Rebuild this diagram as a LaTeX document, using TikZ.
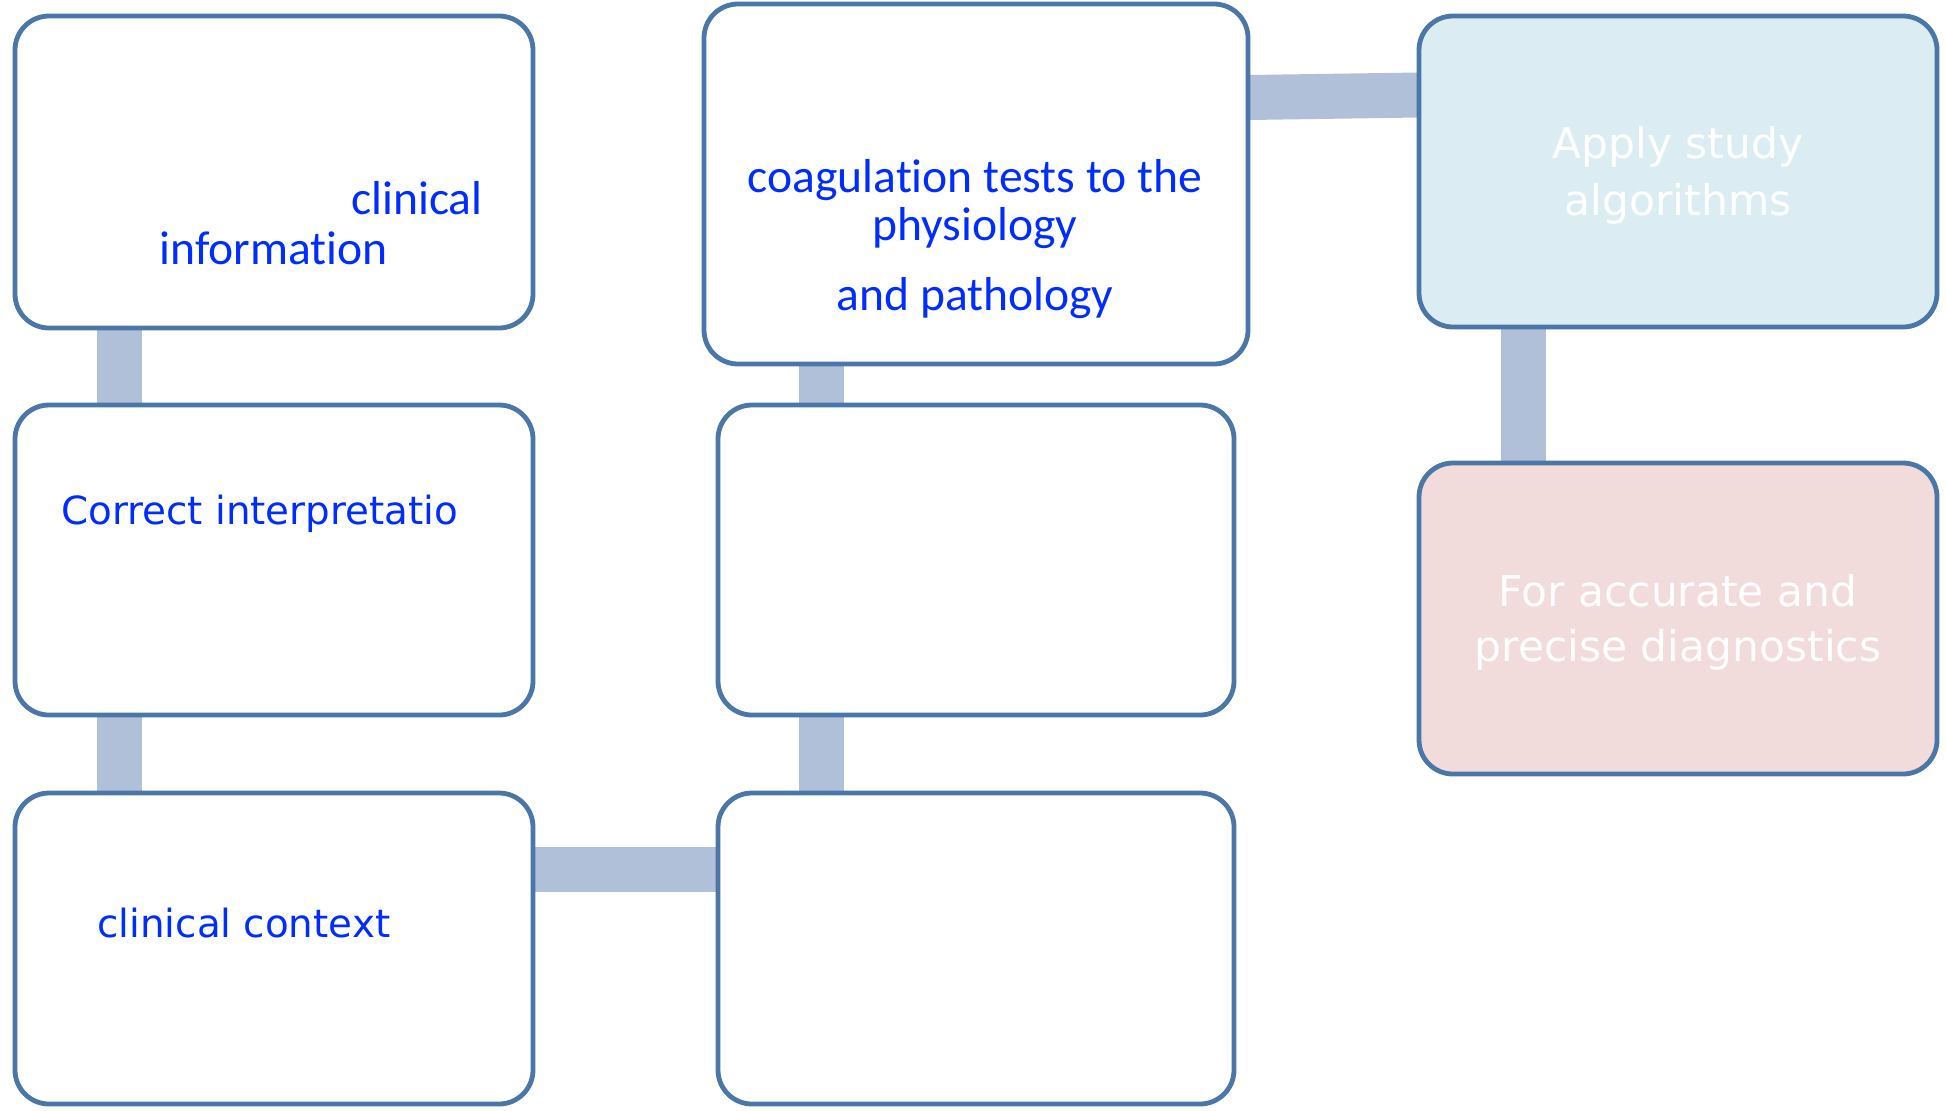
\documentclass[tikz,border=0pt]{standalone}
\usepackage{fontspec}
\usetikzlibrary{calc}
\newfontfamily\calfont[Ligatures={NoCommon}]{Carlito}
\newfontfamily\verfont{DejaVu Sans}
\definecolor{bordc}{RGB}{74,118,168}
\definecolor{connc}{RGB}{176,192,216}
\definecolor{txtblue}{RGB}{0,45,255}
\definecolor{lblue}{RGB}{219,237,243}
\definecolor{lpink}{RGB}{242,219,219}
\pgfdeclarelayer{bg}
\pgfsetlayers{bg,main}
\tikzset{
  box/.style={draw=bordc, line width=2.4pt, rounded corners=17pt, fill=white, inner sep=0pt, outer sep=0pt, rectangle},
  conn/.style={draw=connc, line width=22.5pt, line cap=butt},
  caltxt/.style={text=txtblue, font=\calfont\fontsize{23.8pt}{28pt}\selectfont, inner sep=0pt, anchor=base},
  vertxt/.style={text=txtblue, font=\verfont\fontsize{19.4pt}{24pt}\selectfont, inner sep=0pt, anchor=base west},
  whitetxt/.style={text=white, font=\verfont\fontsize{21.2pt}{26pt}\selectfont, inner sep=0pt, anchor=base}
}
\begin{document}
\begin{tikzpicture}[x=0.5pt,y=-0.5pt]
\useasboundingbox (0,0) rectangle (1947,1110);
% boxes
\node[box, minimum width=259pt, minimum height=156pt] (A) at (274,172) {};
\node[box, minimum width=259pt, minimum height=155pt] (B) at (274,560) {};
\node[box, minimum width=259pt, minimum height=155.5pt] (C) at (274,948.5) {};
\node[box, minimum width=272pt, minimum height=180pt] (D) at (976,184) {};
\node[box, minimum width=258pt, minimum height=155pt] (E) at (976,560) {};
\node[box, minimum width=258pt, minimum height=155.5pt] (F) at (976,948.5) {};
\node[box, fill=lblue, minimum width=259pt, minimum height=155.5pt] (G) at (1678,171.5) {};
\node[box, fill=lpink, minimum width=259pt, minimum height=155.5pt] (H) at (1678,618.5) {};
% connector guides
\coordinate (xL) at (119.5,0);
\coordinate (xM) at (821,0);
\coordinate (xR) at (1523,0);
\coordinate (yCF) at (0,869.5);
\begin{pgfonlayer}{bg}
\draw[conn] (A.south -| xL) -- (B.north -| xL);
\draw[conn] (B.south -| xL) -- (C.north -| xL);
\draw[conn] (C.east |- yCF) -- (F.west |- yCF);
\draw[conn] (F.north -| xM) -- (E.south -| xM);
\draw[conn] (E.north -| xM) -- (D.south -| xM);
\draw[conn] ($(D.north east)+(0,93.5)$) -- ($(G.north west)+(0,79)$);
\draw[conn] (G.south -| xR) -- (H.north -| xR);
\end{pgfonlayer}
% texts
\node[caltxt, anchor=base east] (t1) at (483,214) {clinical};
\node[caltxt, anchor=base west] (t2) at (159,264) {information};
\node[vertxt] (t3) at (61,524) {Correct interpretatio};
\node[vertxt] (t4) at (97,937) {clinical context};
\node[caltxt] (t5) at (975,192) {coagulation tests to the};
\node[caltxt] (t6) at (975,240) {physiology};
\node[caltxt] (t7) at (975,310) {and pathology};
\node[whitetxt] (t8) at (1678,158) {Apply study};
\node[whitetxt] (t9) at (1678,215) {algorithms};
\node[whitetxt] (t10) at (1678,606) {For accurate and};
\node[whitetxt] (t11) at (1678,661) {precise diagnostics};
\end{tikzpicture}
\end{document}
